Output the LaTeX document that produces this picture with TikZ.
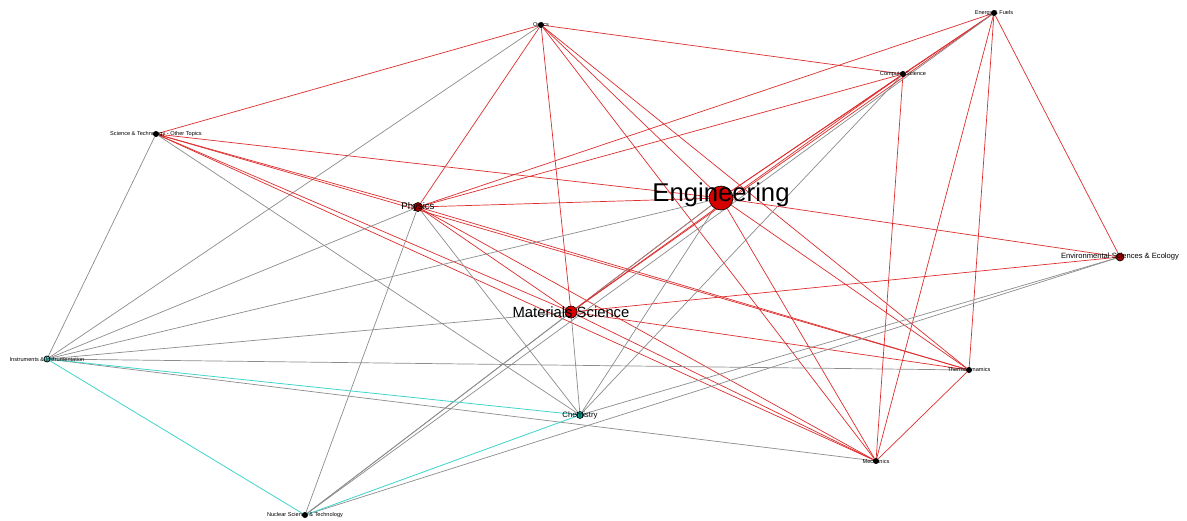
\documentclass[tikz,border=0pt]{standalone}
\usepackage{fontspec}
\setmainfont{Liberation Sans}
\definecolor{edgered}{RGB}{222,45,45}
\definecolor{edgegray}{RGB}{140,140,140}
\definecolor{edgecyan}{RGB}{64,214,204}
\definecolor{nodered}{RGB}{215,0,0}
\definecolor{nodedark}{RGB}{160,0,0}
\definecolor{nodeteal}{RGB}{0,160,150}
\tikzset{
  vtx/.style={circle, inner sep=0pt, minimum size=6pt},
  lbl/.style={font=\fontsize{5.6pt}{6pt}\selectfont, inner sep=0pt},
  red/.style={draw=edgered, line width=0.7pt},
  gray/.style={draw=edgegray, line width=0.7pt},
  cyan/.style={draw=edgecyan, line width=0.8pt}
}
\begin{document}
\begin{tikzpicture}[x=1pt, y=-1pt]
    \useasboundingbox[fill=white] (0,0) rectangle (1187,520);
    % vertices
    \node[vtx] (opt) at (541,25) {};
    \node[vtx] (ene) at (994,13) {};
    \node[vtx] (com) at (903,74) {};
    \node[vtx] (sci) at (156,134) {};
    \node[vtx, minimum size=9pt] (phy) at (418,207) {};
    \node[vtx, minimum size=24pt] (eng) at (721,198) {};
    \node[vtx, minimum size=8pt] (env) at (1120,257) {};
    \node[vtx, minimum size=12pt] (mat) at (571,312) {};
    \node[vtx] (ins) at (47,359) {};
    \node[vtx, minimum size=7pt] (che) at (580,415) {};
    \node[vtx] (the) at (969,370) {};
    \node[vtx] (mec) at (876,461) {};
    \node[vtx] (nuc) at (305,515) {};
    % links
    \draw[red] (opt) -- (sci);
    \draw[red] (opt) -- (phy);
    \draw[red] (opt) -- (mat);
    \draw[red] (opt) -- (eng);
    \draw[red] (opt) -- (com);
    \draw[red] (opt) -- (the);
    \draw[red] (opt) -- (mec);
    \draw[gray] (opt) -- (ins);
    \draw[red] (sci) -- (phy);
    \draw[red] (sci) -- (eng);
    \draw[red] (sci) -- (mat);
    \draw[red] (sci) -- (the);
    \draw[red] (sci) -- (mec);
    \draw[gray] (sci) -- (ins);
    \draw[gray] (sci) -- (che);
    \draw[red] (phy) -- (eng);
    \draw[red] (phy) -- (com);
    \draw[red] (phy) -- (ene);
    \draw[red] (phy) -- (mat);
    \draw[red] (phy) -- (the);
    \draw[red] (phy) -- (mec);
    \draw[gray] (phy) -- (ins);
    \draw[gray] (phy) -- (nuc);
    \draw[gray] (phy) -- (che);
    \draw[red] (eng) -- (com);
    \draw[red] (eng) -- (ene);
    \draw[red] (eng) -- (mat);
    \draw[red] (eng) -- (env);
    \draw[red] (eng) -- (the);
    \draw[red] (eng) -- (mec);
    \draw[gray] (eng) -- (ins);
    \draw[gray] (eng) -- (che);
    \draw[gray] (eng) -- (nuc);
    \draw[red] (com) -- (ene);
    \draw[red] (com) -- (mat);
    \draw[red] (com) -- (mec);
    \draw[gray] (com) -- (che);
    \draw[red] (ene) -- (mat);
    \draw[red] (ene) -- (env);
    \draw[red] (ene) -- (the);
    \draw[red] (ene) -- (mec);
    \draw[gray] (ene) -- (nuc);
    \draw[red] (mat) -- (env);
    \draw[red] (mat) -- (the);
    \draw[red] (mat) -- (mec);
    \draw[gray] (mat) -- (ins);
    \draw[gray] (mat) -- (che);
    \draw[gray] (mat) -- (nuc);
    \draw[red] (the) -- (mec);
    \draw[gray] (the) -- (ins);
    \draw[gray] (mec) -- (ins);
    \draw[gray] (env) -- (che);
    \draw[gray] (env) -- (nuc);
    \draw[cyan] (ins) -- (che);
    \draw[cyan] (ins) -- (nuc);
    \draw[cyan] (che) -- (nuc);
    % vertex dots over the links
    \foreach \v in {opt,ene,com,sci,the,mec,nuc}
        \fill[black] (\v) circle (3);
    \filldraw[fill=nodedark, draw=black, line width=0.6pt] (phy) circle (4.5);
    \filldraw[fill=nodered, draw=black, line width=0.6pt] (eng) circle (12);
    \filldraw[fill=nodedark, draw=black, line width=0.6pt] (env) circle (4);
    \filldraw[fill=nodered, draw=black, line width=0.6pt] (mat) circle (6);
    \filldraw[fill=edgecyan, draw=black, line width=0.8pt] (ins) circle (3);
    \filldraw[fill=nodeteal, draw=black, line width=0.6pt] (che) circle (3.5);
    % labels
    \node[lbl] at (opt) {Optics};
    \node[lbl] at (ene) {Energy \& Fuels};
    \node[lbl] at (com) {Computer Science};
    \node[lbl] at (sci) {Science \& Technology - Other Topics};
    \node[lbl, font=\fontsize{9.6pt}{10pt}\selectfont] at (phy) {Physics};
    \node[lbl, font=\fontsize{25.7pt}{26pt}\selectfont] at ([yshift=3]eng) {Engineering};
    \node[lbl, font=\fontsize{7.6pt}{8pt}\selectfont] at (env) {Environmental Sciences \& Ecology};
    \node[lbl, font=\fontsize{14.8pt}{15pt}\selectfont] at (mat) {Materials Science};
    \node[lbl] at (ins) {Instruments \& Instrumentation};
    \node[lbl, font=\fontsize{7.8pt}{8pt}\selectfont] at (che) {Chemistry};
    \node[lbl] at (the) {Thermodynamics};
    \node[lbl] at (mec) {Mechanics};
    \node[lbl] at (nuc) {Nuclear Science \& Technology};
\end{tikzpicture}
\end{document}
